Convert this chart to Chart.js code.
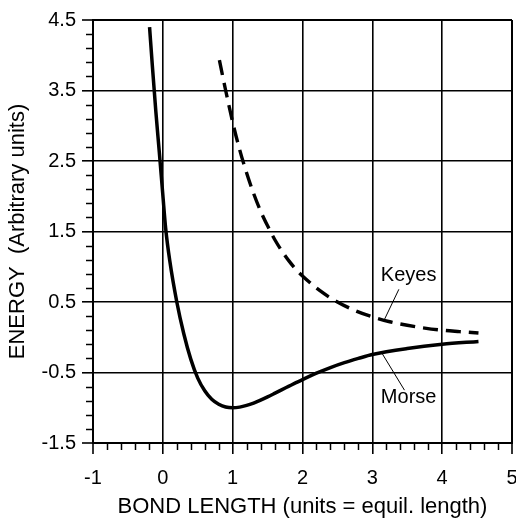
<!DOCTYPE html>
<html>
<head>
<meta charset="utf-8">
<script src="https://cdn.jsdelivr.net/npm/chart.js@4.4.1/dist/chart.umd.min.js"></script>
<style>
html,body{margin:0;padding:0;background:#ffffff;}
#wrap{width:516px;height:520px;}
</style>
</head>
<body>
<div id="wrap"><canvas id="c" width="516" height="520"></canvas></div>
<script>
// ---- data ----
const morseX = [-0.19, -0.15, -0.10, -0.05, 0.00, 0.04, 0.10, 0.20, 0.30, 0.40, 0.50, 0.60, 0.70, 0.80, 0.90, 1.00, 1.10, 1.20, 1.30, 1.40, 1.50, 1.60, 1.70, 1.80, 1.90, 2.00, 2.20, 2.40, 2.60, 2.80, 3.00, 3.50, 4.00, 4.52];
const morseY = [4.40, 3.85, 3.20, 2.62, 2.02, 1.55, 1.08, 0.50, 0.05, -0.31, -0.58, -0.76, -0.88, -0.95, -0.99, -1.00, -0.991, -0.967, -0.933, -0.891, -0.845, -0.796, -0.746, -0.697, -0.648, -0.600, -0.51, -0.43, -0.36, -0.30, -0.245, -0.16, -0.10, -0.06];
const keyesX = [0.81, 0.90, 1.00, 1.10, 1.20, 1.30, 1.40, 1.50, 1.60, 1.70, 1.80, 1.90, 2.00, 2.25, 2.50, 2.75, 3.00, 3.25, 3.50, 3.75, 4.00, 4.25, 4.52];
const keyesY = [3.93, 3.50, 3.05, 2.66, 2.33, 2.04, 1.79, 1.58, 1.39, 1.23, 1.09, 0.97, 0.87, 0.66, 0.50, 0.38, 0.29, 0.22, 0.17, 0.13, 0.10, 0.08, 0.06];

const xMin = -1, xMax = 5, xStep = 1;
const yMin = -1.5, yMax = 4.5, yStep = 1;
const minorStep = 0.2;

const xTitle = 'BOND LENGTH (units = equil. length)';
const yTitle = 'ENERGY  (Arbitrary units)';

// curve labels (text, text anchor, leader line start/end) in data units
const labelText  = ['Keyes', 'Morse'];
const labelX     = [3.52, 3.52];
const labelY     = [0.87, -0.85];
const leaderX1   = [3.38, 3.14];
const leaderY1   = [0.68, -0.23];
const leaderX2   = [3.17, 3.46];
const leaderY2   = [0.245, -0.75];

const FONT = '"Liberation Sans", Arial, Helvetica, sans-serif';

const toPts = (xs, ys) => xs.map((x, i) => ({x: x, y: ys[i]}));

const minorTicksPlugin = {
  id: 'minorTicks',
  afterDraw(chart) {
    const ctx = chart.ctx, xs = chart.scales.x, ys = chart.scales.y;
    ctx.save();
    ctx.strokeStyle = '#000';
    ctx.lineWidth = 1.5;
    const nx = Math.round((xMax - xMin) / minorStep);
    for (let i = 0; i <= nx; i++) {
      if (i % 5 === 0) continue;
      const px = Math.round(xs.getPixelForValue(xMin + i * minorStep)) + 0.5;
      ctx.beginPath(); ctx.moveTo(px, ys.bottom); ctx.lineTo(px, ys.bottom + 7); ctx.stroke();
    }
    const ny = Math.round((yMax - yMin) / minorStep);
    for (let i = 0; i <= ny; i++) {
      if (i % 5 === 0) continue;
      const py = Math.round(ys.getPixelForValue(yMin + i * minorStep)) + 0.5;
      ctx.beginPath(); ctx.moveTo(xs.left, py); ctx.lineTo(xs.left - 7, py); ctx.stroke();
    }
    ctx.restore();
  }
};

const labelsPlugin = {
  id: 'curveLabels',
  afterDatasetsDraw(chart) {
    const ctx = chart.ctx, xs = chart.scales.x, ys = chart.scales.y;
    ctx.save();
    ctx.strokeStyle = '#000';
    ctx.lineWidth = 1;
    ctx.fillStyle = '#000';
    ctx.font = '20px ' + FONT;
    ctx.textAlign = 'center';
    ctx.textBaseline = 'middle';
    for (let i = 0; i < labelText.length; i++) {
      ctx.beginPath();
      ctx.moveTo(xs.getPixelForValue(leaderX1[i]), ys.getPixelForValue(leaderY1[i]));
      ctx.lineTo(xs.getPixelForValue(leaderX2[i]), ys.getPixelForValue(leaderY2[i]));
      ctx.stroke();
      ctx.fillText(labelText[i], xs.getPixelForValue(labelX[i]), ys.getPixelForValue(labelY[i]));
    }
    ctx.restore();
  }
};

const gridWidth = (ctx) => (ctx.tick && (ctx.index === 0 || ctx.tick.value === ctx.scale.max)) ? 2 : 1.6;

new Chart(document.getElementById('c'), {
  type: 'scatter',
  data: {
    datasets: [
      {
        label: 'Morse',
        data: toPts(morseX, morseY),
        showLine: true,
        borderColor: '#000',
        borderWidth: 3.5,
        pointRadius: 0,
        cubicInterpolationMode: 'monotone',
        fill: false
      },
      {
        label: 'Keyes',
        data: toPts(keyesX, keyesY),
        showLine: true,
        borderColor: '#000',
        borderWidth: 3.4,
        borderDash: [15, 8],
        pointRadius: 0,
        cubicInterpolationMode: 'monotone',
        fill: false
      }
    ]
  },
  options: {
    responsive: false,
    devicePixelRatio: 1,
    animation: false,
    layout: { padding: { top: 20, right: 4, left: 0, bottom: 0 } },
    plugins: { legend: { display: false }, tooltip: { enabled: false } },
    scales: {
      x: {
        type: 'linear',
        min: xMin, max: xMax,
        afterFit: (s) => { s.height = 77; s.paddingRight = 0; s.paddingLeft = 0; },
        ticks: {
          stepSize: xStep,
          color: '#000',
          padding: 12,
          font: { family: FONT, size: 20 },
          callback: (v) => String(v),
          maxRotation: 0
        },
        grid: { color: '#000', lineWidth: gridWidth, tickLength: 11, tickWidth: 1.6, tickColor: '#000' },
        border: { display: true, color: '#000', width: 2 },
        title: {
          display: true, text: xTitle, color: '#000',
          font: { family: FONT, size: 22 },
          padding: { top: 0, bottom: 0 }
        }
      },
      y: {
        type: 'linear',
        min: yMin, max: yMax,
        afterFit: (s) => { s.width = 93; },
        ticks: {
          stepSize: yStep,
          color: '#000',
          padding: 6,
          font: { family: FONT, size: 20 },
          callback: (v) => v.toFixed(1)
        },
        grid: { color: '#000', lineWidth: gridWidth, tickLength: 11, tickWidth: 1.6, tickColor: '#000' },
        border: { display: true, color: '#000', width: 2 },
        title: {
          display: true, text: yTitle, color: '#000',
          font: { family: FONT, size: 22 },
          padding: { top: 5, bottom: 0 }
        }
      }
    }
  },
  plugins: [minorTicksPlugin, labelsPlugin]
});
</script>
</body>
</html>
